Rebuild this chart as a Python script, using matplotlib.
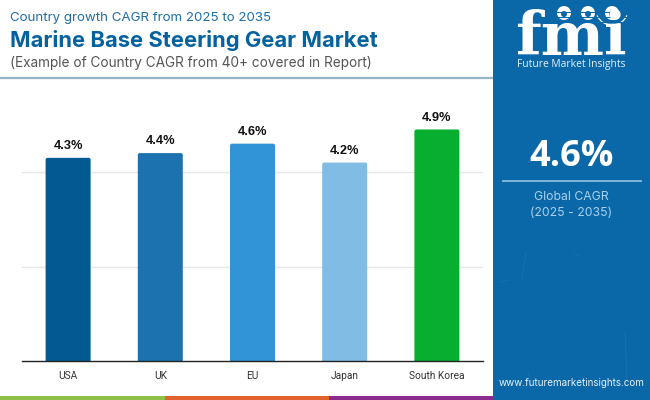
import matplotlib
matplotlib.use("Agg")
import matplotlib.pyplot as plt
from matplotlib.patches import FancyBboxPatch, Rectangle, Circle, Arc

countries = ["USA", "UK", "EU", "Japan", "South Korea"]
cagr = [4.3, 4.4, 4.6, 4.2, 4.9]
bar_colors = ["#035a92", "#1b72ae", "#3094d6", "#80bce3", "#07ae2f"]
grid_values = [2, 4]

W, H = 650, 400
PANEL = "#0b68a8"


def fx(px):
    return px / W


def fy(py):
    return 1 - py / H


fig = plt.figure(figsize=(6.5, 4), dpi=100, facecolor="white")

# chart area, pixel box from the reference
ax = fig.add_axes([fx(22), fy(361), fx(461), (361 - 77.5) / H])
ax.set_xlim(-0.5, 4.5)
ax.set_ylim(0, 6)
px_x = 461 / 5
px_y = (361 - 77.5) / 6
bar_w = 45 / px_x
rad = 2 / px_x

for v in grid_values:
    ax.axhline(v, color="#e4e6e8", lw=1, zorder=1)

for i, (c, v, col) in enumerate(zip(countries, cagr, bar_colors)):
    ax.add_patch(FancyBboxPatch(
        (i - bar_w / 2 + rad, 0), bar_w - 2 * rad, v - rad * px_x / px_y,
        boxstyle=f"round,pad={rad},rounding_size={rad}",
        mutation_aspect=px_x / px_y, fc=col, ec="none", zorder=2,
    ))
    ax.text(i, v + 0.25, f"{v}%", ha="center", va="center", fontsize=9.2,
            fontweight="bold", family="Liberation Sans", color="#111111")

for s in ["top", "left", "right"]:
    ax.spines[s].set_visible(False)
ax.spines["bottom"].set_color("#222222")
ax.spines["bottom"].set_linewidth(1)
ax.set_yticks([])
ax.set_xticks(range(len(countries)))
ax.set_xticklabels(countries, fontsize=7.3, family="Roboto", color="#333333")
ax.tick_params(axis="x", length=0, pad=7)
ax.patch.set_alpha(0)

# overlay for header, panel and strip, in pixels
ov = fig.add_axes([0, 0, 1, 1], zorder=5)
ov.set_xlim(0, W)
ov.set_ylim(H, 0)
ov.axis("off")

# header
ov.text(10.5, 17.5, "Country growth CAGR from 2025 to 2035", fontsize=9.6, family="Inter",
        color="#1f6ea6", va="center", ha="left")
ov.text(10.5, 40.5, "Marine Base Steering Gear Market", fontsize=15.8, family="Inter",
        fontweight="bold", color="#04629f", va="center", ha="left")
ov.text(10.5, 63.5, "(Example of Country CAGR from 40+ covered in Report)", fontsize=9.8, family="Inter",
        color="#555555", va="center", ha="left")
ov.plot([0, 493], [78, 78], color="#93b5c8", lw=1.6, solid_capstyle="butt")

# bottom colour strip
ov.add_patch(Rectangle((0, 396), 165, 4, fc="#8cbf45", ec="none"))
ov.add_patch(Rectangle((165, 396), 164, 4, fc="#e2622f", ec="none"))
ov.add_patch(Rectangle((329, 396), 164, 4, fc="#8a2c8e", ec="none"))

# side panel
ov.add_patch(Rectangle((493, 0), 157, 400, fc=PANEL, ec="none"))

# faint scratches on the panel
for x0, y0, x1, y1 in [(526, 253, 522, 278), (625, 332, 627, 380), (575, 254, 578, 256),
                       (530, 388, 528, 372), (510, 280, 500, 282)]:
    ov.plot([x0, x1], [y0, y1], color="#2f7fb6", lw=0.5, alpha=0.5)

# logo: striped letters with three small badges
ov.text(571, 55, "fmi", fontsize=43, family="DejaVu Serif", fontweight="bold", color="white",
        ha="center", va="baseline")
for y in [12, 17, 22, 27, 32, 37, 42, 47, 52]:
    ov.plot([510, 632], [y, y], color=PANEL, lw=0.8)
ov.add_patch(Rectangle((604, 0), 24, 23, fc=PANEL, ec="none"))
for cx, cy in [(564, 13), (588, 13), (612, 13)]:
    ov.add_patch(Circle((cx, cy), 7, fc="white", ec="none"))
    ov.add_patch(Circle((cx, cy + 1), 3, fc=PANEL, ec="none"))
ov.add_patch(Arc((612, 10), 32, 30, theta1=20, theta2=160, ec="white", lw=0.9))
ov.text(571, 64, "Future Market Insights", fontsize=7.4, family="Open Sans", color="#e6f1f8",
        ha="center", va="center")

# global figure
ov.text(571.5, 157, "4.6%", fontsize=26, family="Open Sans", fontweight="bold", color="white",
        ha="center", va="center")
ov.plot([502, 642], [181, 181], color="#7fb5da", lw=1.4, solid_capstyle="butt")
ov.text(571.5, 197, "Global CAGR", fontsize=8.8, family="Inter", color="#a9d0ec", ha="center", va="center")
ov.text(571.5, 213.5, "(2025 - 2035)", fontsize=8.8, family="Inter", color="#a9d0ec", ha="center", va="center")
ov.text(572, 382.5, "www.futuremarketinsights.com", fontsize=7.1, family="Inter", color="#e6f1f8",
        ha="center", va="center")

fig.savefig("out.png", dpi=100)
